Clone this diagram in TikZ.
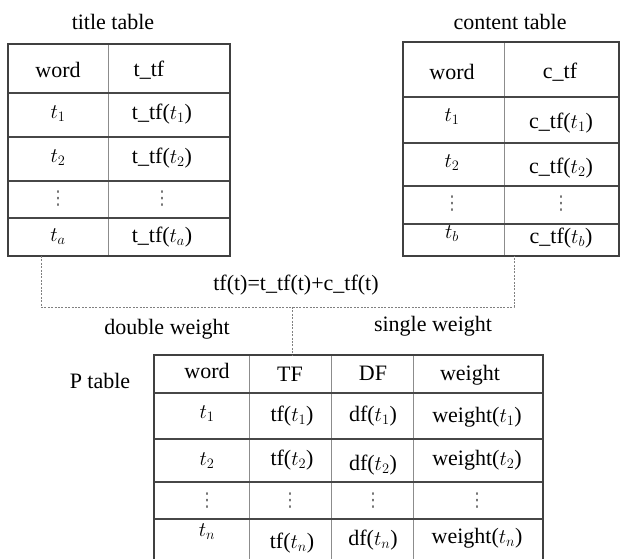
\documentclass[tikz,border=0pt]{standalone}
\usepackage{fontspec}
\setmainfont{Liberation Serif}
\newfontfamily\dotsfont{DejaVu Sans}
\begin{document}
\begin{tikzpicture}[x=1pt,y=-1pt,
  txt/.style={inner sep=0pt, font=\fontsize{22}{25}\selectfont},
  dts/.style={inner sep=0pt, text=black!55, font=\dotsfont\fontsize{19}{22}\selectfont},
  border/.style={draw=black!75, line width=1.3pt},
  hline/.style={draw=black!72, line width=1.1pt},
  vline/.style={draw=black!45, line width=0.9pt},
  conn/.style={draw=black!50, line width=0.9pt, dash pattern=on 2pt off 1.4pt}]
\useasboundingbox (0,0) rectangle (620,558);

% ---------- title table ----------
\draw[vline] (108,44) -- (108,256);
\foreach \yy in {93,137,181,218} \draw[hline] (8,\yy) -- (230,\yy);
\draw[border] (8,44) rectangle (230,256);
\node[txt] (ttl) at (113,22) {title table};
\node[txt] (t00) at (58,70) {word};
\node[txt] (t01) at (149,70) {t\_tf};
\node[txt] (t10) at (58,114) {$t_1$};
\node[txt] (t11) at (162,114) {t\_tf($t_1$)};
\node[txt] (t20) at (58,158) {$t_2$};
\node[txt] (t21) at (162,158) {t\_tf($t_2$)};
\node[dts] (t30) at (58,199) {⋮};
\node[dts] (t31) at (162,199) {⋮};
\node[txt] (t40) at (58,237) {$t_a$};
\node[txt] (t41) at (162,237) {t\_tf($t_a$)};

% ---------- content table ----------
\draw[vline] (504,42) -- (504,256);
\foreach \yy in {97,143,186,224} \draw[hline] (403,\yy) -- (619,\yy);
\draw[border] (403,42) rectangle (619,256);
\node[txt] (ctl) at (510,22) {content table};
\node[txt] (c00) at (452,72) {word};
\node[txt] (c01) at (560,72) {c\_tf};
\node[txt] (c10) at (452,117) {$t_1$};
\node[txt] (c11) at (561,123) {c\_tf($t_1$)};
\node[txt] (c20) at (452,163) {$t_2$};
\node[txt] (c21) at (561,168) {c\_tf($t_2$)};
\node[dts] (c30) at (452,204) {⋮};
\node[dts] (c31) at (561,204) {⋮};
\node[txt] (c40) at (452,234) {$t_b$};
\node[txt] (c41) at (561,238) {c\_tf($t_b$)};

% ---------- P table ----------
\foreach \xx in {249,331,413} \draw[vline] (\xx,355) -- (\xx,562);
\foreach \yy in {393,439,482,519} \draw[hline] (154,\yy) -- (543,\yy);
\draw[border] (154,355) rectangle (543,562);
\node[txt] (ptl) at (100,381) {P table};
\node[txt] (p00) at (207,371) {word};
\node[txt] (p01) at (290,374) {TF};
\node[txt] (p02) at (373,373) {DF};
\node[txt] (p03) at (470,375) {weight};
\node[txt] (p10) at (207,414) {$t_1$};
\node[txt] (p11) at (292,416) {tf($t_1$)};
\node[txt] (p12) at (373,416) {df($t_1$)};
\node[txt] (p13) at (477,417) {weight($t_1$)};
\node[txt] (p20) at (207,461) {$t_2$};
\node[txt] (p21) at (292,460) {tf($t_2$)};
\node[txt] (p22) at (373,465) {df($t_2$)};
\node[txt] (p23) at (477,460) {weight($t_2$)};
\node[dts] (p30) at (207,501) {⋮};
\node[dts] (p31) at (290,501) {⋮};
\node[dts] (p32) at (373,501) {⋮};
\node[dts] (p33) at (477,501) {⋮};
\node[txt] (p40) at (207,532) {$t_n$};
\node[txt] (p41) at (292,543) {tf($t_n$)};
\node[txt] (p42) at (373,540) {df($t_n$)};
\node[txt] (p43) at (477,538) {weight($t_n$)};

% ---------- connectors ----------
\coordinate (tA) at (41,256);
\coordinate (cA) at (514,256);
\coordinate (pA) at (292,355);
\coordinate (jL) at (41,307);
\coordinate (jR) at (514,307);
\coordinate (jM) at (292,307);
\draw[conn] (tA) -- (jL) -- (jR) -- (cA);
\draw[conn] (jM) -- (pA);

\node[txt] (frm) at (296,285) {tf(t)=t\_tf(t)+c\_tf(t)};
\node[txt] (dbl) at (167,329) {double weight};
\node[txt] (sgl) at (433,326) {single weight};
\end{tikzpicture}
\end{document}
